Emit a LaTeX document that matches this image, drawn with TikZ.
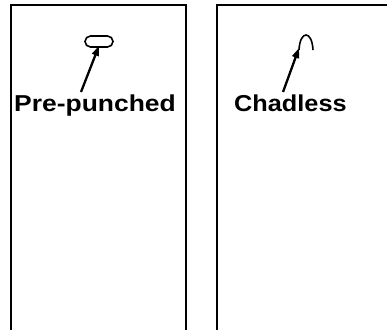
\documentclass[tikz,border=0pt]{standalone}
\usepackage{fontspec}
\setmainfont{Liberation Sans}
\usetikzlibrary{arrows.meta}
\tikzset{
  panel/.style={line width=2pt,draw=black},
  lbl/.style={anchor=base west,inner sep=0pt,font=\bfseries\fontsize{23}{23}\selectfont},
  pointer/.style={line width=2.3pt,-{Triangle[length=10pt,width=7pt]}},
  hole/.style={draw,line width=1.6pt,rounded corners=5.5pt,minimum width=28pt,minimum height=11pt,inner sep=0pt},
  chad/.style={line width=1.6pt}
}
\begin{document}
\begin{tikzpicture}[x=1pt,y=-1pt]
\useasboundingbox (0,0) rectangle (387,329);
% panels
\draw[panel] (11,335) -- (11,5) -- (186,5) -- (186,335);
\draw[panel] (217,335) -- (217,5) -- (395,5);
% left: pre-punched hole
\node[hole] (slot) at (99,41.5) {};
\node[lbl] (pp) at (14,111) {\scalebox{1.15}[1]{Pre-punched}};
\coordinate (ptail) at (81,92);
\draw[pointer] (ptail) -- ([yshift=2pt]slot.south);
% right: chadless flap
\coordinate (chadL) at (299,50);
\coordinate (chadR) at (313,50);
\draw[chad] (chadL) .. controls (300,30) and (312,30) .. (chadR);
\node[lbl] (cl) at (234,111) {\scalebox{1.1}[1]{Chadless}};
\coordinate (ctail) at (283,92);
\draw[pointer] (ctail) -- ([yshift=2pt]chadL);
\end{tikzpicture}
\end{document}
